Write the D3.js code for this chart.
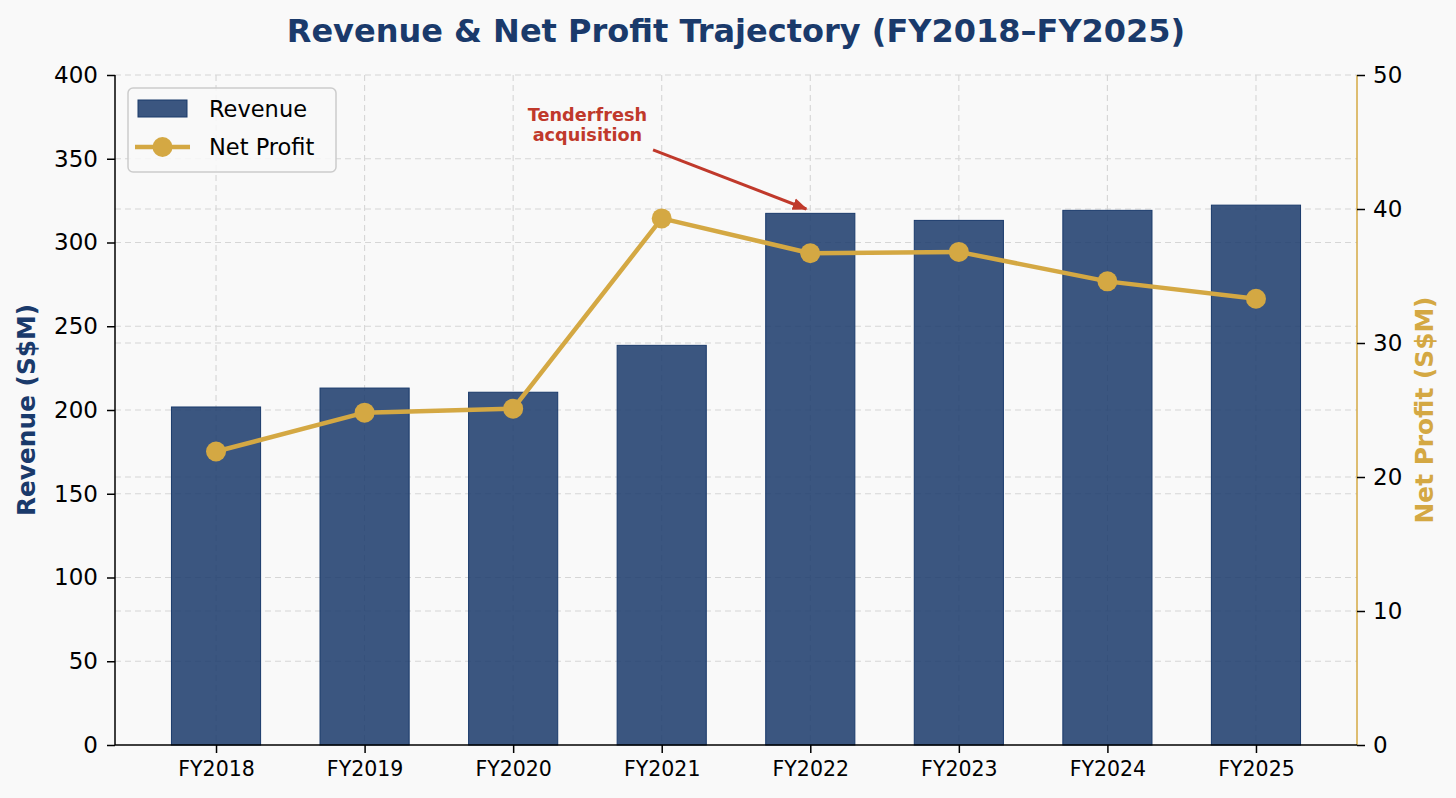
<!DOCTYPE html>
<html>
<head>
<meta charset="utf-8">
<script src="https://cdn.jsdelivr.net/npm/d3@7"></script>
<style>
  html, body { margin: 0; padding: 0; background: #f9f9f9; }
  svg { display: block; font-family: 'DejaVu Sans', sans-serif; }
</style>
</head>
<body>
<svg id="chart" width="1456" height="798"></svg>
<script>
/* chart data */
const years = ['FY2018', 'FY2019', 'FY2020', 'FY2021', 'FY2022', 'FY2023', 'FY2024', 'FY2025']
const revenue = [201.8, 213.1, 210.6, 238.6, 317.4, 313.2, 319.2, 322.3]
const netProfit = [21.9, 24.8, 25.1, 39.3, 36.7, 36.8, 34.6, 33.3]
const revTicks = [0, 50, 100, 150, 200, 250, 300, 350, 400]
const profitTicks = [0, 10, 20, 30, 40, 50]
const annotation = { label: ['Tenderfresh', 'acquisition'], textAt: [2.5, 370], pointAt: [4, 320] }

/* layout */
const margin = { top: 75, left: 115, right: 99, bottom: 53 }
const W = 1456, H = 798
const width = W - margin.left - margin.right
const height = H - margin.top - margin.bottom

/* colours */
const navy = '#1a3a6b'
const gold = '#d4a843'
const red = '#c0392b'
const gridCol = '#d6d6d6'

const svg = d3.select('#chart')
svg.append('rect').attr('width', W).attr('height', H).attr('fill', '#f9f9f9')

const defs = svg.append('defs')
defs.append('marker')
  .attr('id', 'arrow')
  .attr('viewBox', '0 0 10 10')
  .attr('refX', 9).attr('refY', 5)
  .attr('markerWidth', 5).attr('markerHeight', 5)
  .attr('orient', 'auto')
  .append('path')
  .attr('d', 'M0,1 L10,5 L0,9 Z')
  .attr('fill', red)

const g = svg.append('g').attr('transform', `translate(${margin.left},${margin.top})`)

/* scales (matplotlib-like 5% padding around bars of width 0.6) */
const barW = 0.6
const xScale = d3.scaleLinear().domain([-0.68, years.length - 1 + 0.68]).range([0, width])
const yScale = d3.scaleLinear().domain([0, 400]).range([height, 0])
const y2Scale = d3.scaleLinear().domain([0, 50]).range([height, 0])

/* grid: vertical at categories, horizontal for both axes */
const grid = g.append('g').attr('class', 'grid')
  .attr('stroke', gridCol).attr('stroke-width', 1.1).attr('stroke-dasharray', '6,4')
grid.selectAll('line.v').data(years).join('line')
  .attr('x1', (d, i) => xScale(i)).attr('x2', (d, i) => xScale(i))
  .attr('y1', 0).attr('y2', height)
grid.selectAll('line.h1').data(revTicks.slice(1)).join('line')
  .attr('x1', 0).attr('x2', width)
  .attr('y1', (d) => yScale(d)).attr('y2', (d) => yScale(d))
grid.selectAll('line.h2').data(profitTicks.slice(1, -1)).join('line')
  .attr('x1', 0).attr('x2', width)
  .attr('y1', (d) => y2Scale(d)).attr('y2', (d) => y2Scale(d))

/* bars */
g.append('g').selectAll('rect').data(revenue).join('rect')
  .attr('x', (d, i) => xScale(i - barW / 2))
  .attr('width', xScale(barW) - xScale(0))
  .attr('y', (d) => yScale(d))
  .attr('height', (d) => height - yScale(d))
  .attr('fill', navy).attr('fill-opacity', 0.85)
  .attr('stroke', navy).attr('stroke-width', 1)

/* net profit line */
const line = d3.line().x((d, i) => xScale(i)).y((d) => y2Scale(d))
g.append('path').datum(netProfit)
  .attr('d', line)
  .attr('fill', 'none').attr('stroke', gold).attr('stroke-width', 4.5)
  .attr('stroke-linejoin', 'round')
g.append('g').selectAll('circle').data(netProfit).join('circle')
  .attr('cx', (d, i) => xScale(i)).attr('cy', (d) => y2Scale(d))
  .attr('r', 10).attr('fill', gold)

/* axes */
const yAxis = d3.axisLeft(yScale).tickValues(revTicks).tickSize(8).tickPadding(9)
const y2Axis = d3.axisRight(y2Scale).tickValues(profitTicks).tickSize(8).tickPadding(8)
const xAxis = d3.axisBottom(xScale).tickValues(d3.range(years.length))
  .tickFormat((i) => years[i]).tickSize(8).tickPadding(8)

function styleAxis(ax, size, spineCol) {
  ax.selectAll('text').attr('font-size', size).attr('fill', '#000')
    .attr('font-family', "'DejaVu Sans', sans-serif")
  ax.selectAll('.tick line').attr('stroke', '#000').attr('stroke-width', 1.5)
  ax.select('.domain').attr('stroke', spineCol).attr('stroke-width', 1.5)
}

g.append('g').call(yAxis).call((ax) => styleAxis(ax, 23, '#000'))
  .call((ax) => ax.select('.domain').attr('d', `M0,0V${height}`))
g.append('g').attr('transform', `translate(${width},0)`).call(y2Axis)
  .call((ax) => styleAxis(ax, 23, gold))
  .call((ax) => ax.select('.domain').attr('d', `M0,${height}V0`))
g.append('g').attr('transform', `translate(0,${height})`).call(xAxis)
  .call((ax) => styleAxis(ax, 20.5, '#000'))
  .call((ax) => ax.select('.domain').attr('d', `M0,0H${width}`))

/* axis labels */
svg.append('text')
  .attr('transform', `translate(26,${margin.top + height / 2}) rotate(-90)`)
  .attr('text-anchor', 'middle').attr('dominant-baseline', 'central')
  .attr('font-size', 24.8).attr('font-weight', 'bold').attr('fill', navy)
  .text('Revenue (S$M)')
svg.append('text')
  .attr('transform', `translate(1424,${margin.top + height / 2}) rotate(-90)`)
  .attr('text-anchor', 'middle').attr('dominant-baseline', 'central')
  .attr('font-size', 24.8).attr('font-weight', 'bold').attr('fill', gold)
  .text('Net Profit (S$M)')

/* title */
svg.append('text')
  .attr('x', margin.left + width / 2).attr('y', 42)
  .attr('text-anchor', 'middle')
  .attr('font-size', 32).attr('font-weight', 'bold').attr('fill', navy)
  .text('Revenue & Net Profit Trajectory (FY2018–FY2025)')

/* annotation */
const tx = xScale(annotation.textAt[0]), ty = yScale(annotation.textAt[1])
const px = xScale(annotation.pointAt[0]), py = yScale(annotation.pointAt[1])
const annText = g.append('text')
  .attr('text-anchor', 'middle').attr('font-size', 17.7).attr('font-weight', 'bold').attr('fill', red)
annText.selectAll('tspan').data(annotation.label).join('tspan')
  .attr('x', tx).attr('y', (d, i) => ty - 4 + i * 20)
  .text((d) => d)
/* start arrow where the line leaves the text box */
const bb = annText.node().getBBox()
const halfW = bb.width / 2 + 6, halfH = bb.height / 2 + 6
const cx = bb.x + bb.width / 2, cy = bb.y + bb.height / 2
const dx = px - cx, dy = py - cy
const k = Math.min(halfW / Math.abs(dx), halfH / Math.abs(dy))
g.append('line')
  .attr('x1', cx + dx * k).attr('y1', cy + dy * k)
  .attr('x2', px - 4).attr('y2', py)
  .attr('stroke', red).attr('stroke-width', 3)
  .attr('marker-end', 'url(#arrow)')

/* legend */
const legend = svg.append('g').attr('transform', 'translate(128,88)')
legend.append('rect')
  .attr('width', 208).attr('height', 84).attr('rx', 5)
  .attr('fill', '#f9f9f9').attr('fill-opacity', 0.85)
  .attr('stroke', '#cccccc').attr('stroke-width', 1.5)
legend.append('rect')
  .attr('x', 10).attr('y', 12).attr('width', 49).attr('height', 17)
  .attr('fill', navy).attr('fill-opacity', 0.85).attr('stroke', navy)
legend.append('line')
  .attr('x1', 7).attr('x2', 62).attr('y1', 59).attr('y2', 59)
  .attr('stroke', gold).attr('stroke-width', 4.5)
legend.append('circle').attr('cx', 34.5).attr('cy', 59).attr('r', 10).attr('fill', gold)
legend.selectAll('text.lab').data(['Revenue', 'Net Profit']).join('text')
  .attr('x', 81).attr('y', (d, i) => 21 + i * 38)
  .attr('dominant-baseline', 'central')
  .attr('font-size', 22.5).attr('fill', '#000')
  .text((d) => d)
</script>
</body>
</html>
